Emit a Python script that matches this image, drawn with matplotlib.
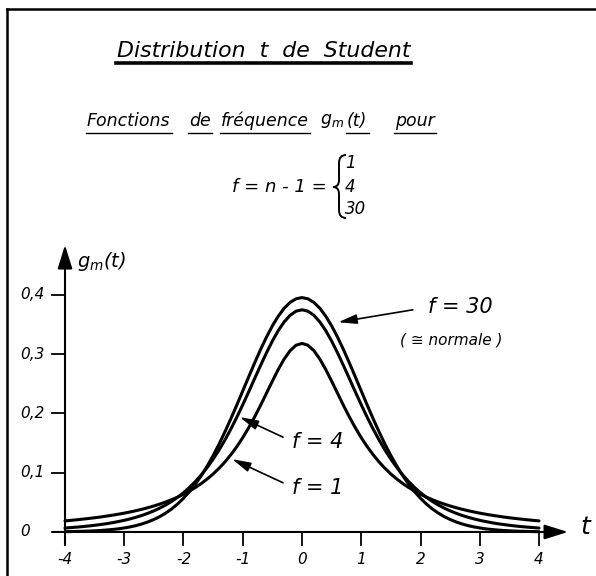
import matplotlib.pyplot as plt
from matplotlib.path import Path
from matplotlib.patches import PathPatch

# t values, step 0.1 from -4 to 4
t = [round(-4 + 0.1 * i, 1) for i in range(81)]

# densities (f = 1, 4, 30)
g_f1 = [0.0187, 0.0196, 0.0206, 0.0217, 0.0228, 0.0240, 0.0253, 0.0268, 0.0283, 0.0300,
        0.0318, 0.0338, 0.0360, 0.0384, 0.0410, 0.0439, 0.0471, 0.0506, 0.0545, 0.0588,
        0.0637, 0.0690, 0.0751, 0.0818, 0.0894, 0.0979, 0.1075, 0.1183, 0.1305, 0.1440,
        0.1592, 0.1759, 0.1941, 0.2136, 0.2341, 0.2546, 0.2744, 0.2920, 0.3061, 0.3152,
        0.3183,
        0.3152, 0.3061, 0.2920, 0.2744, 0.2546, 0.2341, 0.2136, 0.1941, 0.1759, 0.1592,
        0.1440, 0.1305, 0.1183, 0.1075, 0.0979, 0.0894, 0.0818, 0.0751, 0.0690, 0.0637,
        0.0588, 0.0545, 0.0506, 0.0471, 0.0439, 0.0410, 0.0384, 0.0360, 0.0338, 0.0318,
        0.0300, 0.0283, 0.0268, 0.0253, 0.0240, 0.0228, 0.0217, 0.0206, 0.0196, 0.0187]
g_f4 = [0.0067, 0.0074, 0.0082, 0.0091, 0.0101, 0.0113, 0.0126, 0.0140, 0.0157, 0.0176,
        0.0197, 0.0221, 0.0249, 0.0280, 0.0316, 0.0357, 0.0403, 0.0456, 0.0516, 0.0585,
        0.0663, 0.0751, 0.0851, 0.0963, 0.1089, 0.1229, 0.1384, 0.1554, 0.1739, 0.1937,
        0.2147, 0.2365, 0.2588, 0.2809, 0.3023, 0.3223, 0.3400, 0.3547, 0.3658, 0.3727,
        0.3750,
        0.3727, 0.3658, 0.3547, 0.3400, 0.3223, 0.3023, 0.2809, 0.2588, 0.2365, 0.2147,
        0.1937, 0.1739, 0.1554, 0.1384, 0.1229, 0.1089, 0.0963, 0.0851, 0.0751, 0.0663,
        0.0585, 0.0516, 0.0456, 0.0403, 0.0357, 0.0316, 0.0280, 0.0249, 0.0221, 0.0197,
        0.0176, 0.0157, 0.0140, 0.0126, 0.0113, 0.0101, 0.0091, 0.0082, 0.0074, 0.0067]
g_f30 = [0.0005, 0.0007, 0.0009, 0.0012, 0.0015, 0.0020, 0.0025, 0.0033, 0.0042, 0.0053,
         0.0068, 0.0086, 0.0108, 0.0136, 0.0170, 0.0211, 0.0260, 0.0319, 0.0389, 0.0472,
         0.0569, 0.0680, 0.0807, 0.0951, 0.1112, 0.1290, 0.1483, 0.1692, 0.1913, 0.2143,
         0.2380, 0.2618, 0.2852, 0.3078, 0.3288, 0.3479, 0.3643, 0.3777, 0.3875, 0.3936,
         0.3956,
         0.3936, 0.3875, 0.3777, 0.3643, 0.3479, 0.3288, 0.3078, 0.2852, 0.2618, 0.2380,
         0.2143, 0.1913, 0.1692, 0.1483, 0.1290, 0.1112, 0.0951, 0.0807, 0.0680, 0.0569,
         0.0472, 0.0389, 0.0319, 0.0260, 0.0211, 0.0170, 0.0136, 0.0108, 0.0086, 0.0068,
         0.0053, 0.0042, 0.0033, 0.0025, 0.0020, 0.0015, 0.0012, 0.0009, 0.0007, 0.0005]

x_ticks = [-4, -3, -2, -1, 0, 1, 2, 3, 4]
x_labels = ['-4', '-3', '-2', '-1', '0', '1', '2', '3', '4']
y_ticks = [0, 0.1, 0.2, 0.3, 0.4]
y_labels = ['0', '0,1', '0,2', '0,3', '0,4']

W, H = 596, 576
plt.rcParams['font.family'] = 'DejaVu Sans'
plt.rcParams['font.style'] = 'italic'
plt.rcParams['mathtext.fontset'] = 'dejavusans'

fig = plt.figure(figsize=(W / 100, H / 100), dpi=100)
ax = fig.add_axes([0, 0, 1, 1])
ax.set_xlim(-5.097, 4.962)
ax.set_ylim(-0.0743, 0.8979)
ax.axis('off')


def fx(px):
    return px / W


def fy(py):
    return 1 - py / H


# frame of the scanned sheet (top and left edges)
fig.add_artist(plt.Line2D([fx(7), fx(596)], [fy(9), fy(9)], color='k', lw=1.8))
fig.add_artist(plt.Line2D([fx(7), fx(7)], [fy(9), fy(576)], color='k', lw=1.8))

# title
fig.text(fx(117), fy(51), 'Distribution  t  de  Student', fontsize=15.8,
         ha='left', va='center')
fig.add_artist(plt.Line2D([fx(116), fx(411)], [fy(63), fy(63)], color='k', lw=2.6))

# subtitle, word by word, underlined except g_m
words = [('Fonctions', 87, True), ('de', 189, True), ('fréquence', 221, True),
         (r'$g_m$', 320, False), ('(t)', 347, True), ('pour', 395, True)]
fig.canvas.draw()
for w, px, ul in words:
    tx = fig.text(fx(px), fy(121), w, fontsize=12.5, ha='left', va='center')
    if ul:
        bb = tx.get_window_extent(fig.canvas.get_renderer()).transformed(
            fig.transFigure.inverted())
        fig.add_artist(plt.Line2D([bb.x0 - 0.002, bb.x1 + 0.002], [fy(133), fy(133)],
                                  color='k', lw=1.0))

# f = n - 1 = { 1, 4, 30
fig.text(fx(232), fy(187), 'f = n - 1 =', fontsize=13, ha='left', va='center')
brace = [(346, 155), (339, 155), (339, 163), (339, 180), (339, 187), (333, 187),
         (339, 187), (339, 194), (339, 210), (339, 218), (346, 218)]
codes = [Path.MOVETO, Path.CURVE3, Path.CURVE3, Path.LINETO, Path.CURVE3, Path.CURVE3,
         Path.CURVE3, Path.CURVE3, Path.LINETO, Path.CURVE3, Path.CURVE3]
verts = [(fx(a), fy(b)) for a, b in brace]
fig.add_artist(PathPatch(Path(verts, codes), transform=fig.transFigure, fill=False, lw=1.4,
                         edgecolor='k'))
for lab, py in zip(['1', '4', '30'], [163, 187, 209]):
    fig.text(fx(345), fy(py), lab, fontsize=12, ha='left', va='center')

# axes with arrows
arr = dict(arrowstyle='-|>,head_length=0.9,head_width=0.28', color='k', lw=1.5,
           mutation_scale=16, shrinkA=0, shrinkB=0)
ax.annotate('', xy=(4.49, 0), xytext=(-4.22, 0), arrowprops=arr)
ax.annotate('', xy=(-4, 0.4844), xytext=(-4, -0.022), arrowprops=arr)
for v in y_ticks[1:]:
    ax.plot([-4.22, -4], [v, v], color='k', lw=1.3)
for v in x_ticks:
    ax.plot([v, v], [0, -0.022], color='k', lw=1.3)
for v, lab in zip(y_ticks, y_labels):
    ax.text(-4.76, v, lab, fontsize=11, ha='left', va='center')
for v, lab in zip(x_ticks, x_labels):
    ax.text(v, -0.047, lab, fontsize=11, ha='center', va='center')
ax.text(-3.80, 0.456, r'$g_m$(t)', fontsize=14, ha='left', va='center')
ax.text(4.70, 0.009, 't', fontsize=18, ha='left', va='center')

# curves
for g in [g_f1, g_f4, g_f30]:
    ax.plot(t, g, color='k', lw=2.2, solid_capstyle='round', solid_joinstyle='round')

# labels with arrows
lab_arr = dict(arrowstyle='-|>,head_length=0.7,head_width=0.18', color='k', lw=1.2,
               mutation_scale=16, shrinkA=0, shrinkB=0)
ax.text(2.13, 0.380, 'f = 30', fontsize=15, ha='left', va='center')
ax.text(1.65, 0.324, '( ≅ normale )', fontsize=11, ha='left', va='center')
ax.annotate('', xy=(0.61, 0.354), xytext=(1.87, 0.375), arrowprops=lab_arr)
ax.text(-0.17, 0.152, 'f = 4', fontsize=15, ha='left', va='center')
ax.annotate('', xy=(-1.05, 0.194), xytext=(-0.32, 0.160), arrowprops=lab_arr)
ax.text(-0.17, 0.074, 'f = 1', fontsize=15, ha='left', va='center')
ax.annotate('', xy=(-1.18, 0.123), xytext=(-0.32, 0.083), arrowprops=lab_arr)

fig.savefig('out.png', dpi=100)
